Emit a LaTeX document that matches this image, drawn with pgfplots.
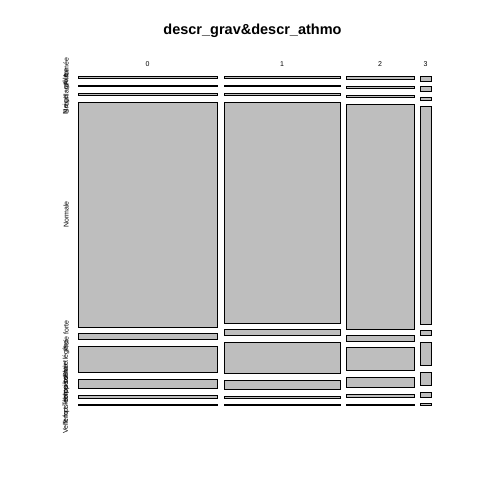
\documentclass[border=0pt]{standalone}
\usepackage{pgfplots}
\pgfplotsset{compat=1.18}
\usepackage{fontspec}
\setmainfont{Liberation Sans}
\definecolor{mosgray}{RGB}{190,190,190}
\begin{document}
\begin{tikzpicture}[x=1pt,y=1pt]
\useasboundingbox (0,0) rectangle (480,480);
\begin{axis}[at={(0,0)},anchor=south west,
  scale only axis, width=480pt, height=480pt,
  xmin=0, xmax=480, ymin=0, ymax=480, y dir=reverse,
  hide axis, clip=false, unbounded coords=jump]
% column 0
\addplot[fill=mosgray, draw=black, line width=1pt] table {
78 76
217 76
217 78
78 78
78 76
nan nan
78 85
217 85
217 86
78 86
78 85
nan nan
78 93
217 93
217 95
78 95
78 93
nan nan
78 102
217 102
217 327
78 327
78 102
nan nan
78 333
217 333
217 339
78 339
78 333
nan nan
78 346
217 346
217 372
78 372
78 346
nan nan
78 379
217 379
217 388
78 388
78 379
nan nan
78 395
217 395
217 398.5
78 398.5
78 395
nan nan
78 404.5
217 404.5
217 405.5
78 405.5
78 404.5
};
% column 1
\addplot[fill=mosgray, draw=black, line width=1pt] table {
224 76
340 76
340 78
224 78
224 76
nan nan
224 85
340 85
340 86
224 86
224 85
nan nan
224 93
340 93
340 95
224 95
224 93
nan nan
224 102
340 102
340 323
224 323
224 102
nan nan
224 329.3
340 329.3
340 335.3
224 335.3
224 329.3
nan nan
224 342
340 342
340 373.3
224 373.3
224 342
nan nan
224 380
340 380
340 389.3
224 389.3
224 380
nan nan
224 396
340 396
340 398.7
224 398.7
224 396
nan nan
224 404.5
340 404.5
340 405.5
224 405.5
224 404.5
};
% column 2
\addplot[fill=mosgray, draw=black, line width=1pt] table {
346 76.3
414 76.3
414 79.3
346 79.3
346 76.3
nan nan
346 86
414 86
414 88.7
346 88.7
346 86
nan nan
346 95
414 95
414 97.7
346 97.7
346 95
nan nan
346 104
414 104
414 329.3
346 329.3
346 104
nan nan
346 335
414 335
414 341.3
346 341.3
346 335
nan nan
346 347
414 347
414 370.3
346 370.3
346 347
nan nan
346 377
414 377
414 387.3
346 387.3
346 377
nan nan
346 394
414 394
414 397.3
346 397.3
346 394
nan nan
346 404.5
414 404.5
414 405.7
346 405.7
346 404.5
};
% column 3
\addplot[fill=mosgray, draw=black, line width=1pt] table {
420 76.3
431 76.3
431 81
420 81
420 76.3
nan nan
420 86.7
431 86.7
431 91.3
420 91.3
420 86.7
nan nan
420 97.7
431 97.7
431 100.3
420 100.3
420 97.7
nan nan
420 106.7
431 106.7
431 324.3
420 324.3
420 106.7
nan nan
420 330.3
431 330.3
431 335.3
420 335.3
420 330.3
nan nan
420 342
431 342
431 365.3
420 365.3
420 342
nan nan
420 372
431 372
431 385.3
420 385.3
420 372
nan nan
420 392
431 392
431 397.3
420 397.3
420 392
nan nan
420 403
431 403
431 405.3
420 405.3
420 403
};
\node[font=\bfseries\fontsize{14.5}{16}\selectfont] at (axis cs:252.5,31) {descr\_grav\&descr\_athmo};
\begin{scope}[every node/.style={font=\fontsize{7}{8}\selectfont}]
\node at (axis cs:147.5,64) {0};
\node at (axis cs:282,64) {1};
\node at (axis cs:380,64) {2};
\node at (axis cs:425.5,64) {3};
\node[rotate=90] at (axis cs:66,77) {Autre};
\node[rotate=90] at (axis cs:66,85.5) {Brouillard - fumée};
\node[rotate=90] at (axis cs:66,94) {Neige - grêle};
\node[rotate=90] at (axis cs:66,214.5) {Normale};
\node[rotate=90] at (axis cs:66,336) {Pluie forte};
\node[rotate=90] at (axis cs:66,359) {Pluie légère};
\node[rotate=90] at (axis cs:66,383.5) {Temps couvert};
\node[rotate=90] at (axis cs:66,396.7) {Temps éblouissant};
\node[rotate=90] at (axis cs:66,405) {Vent fort - tempête};
\end{scope}
\end{axis}
\end{tikzpicture}
\end{document}
